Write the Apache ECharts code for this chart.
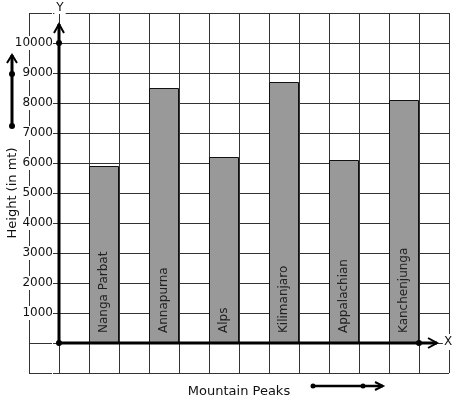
<!DOCTYPE html>
<html><head><meta charset="utf-8">
<script src="https://cdn.jsdelivr.net/npm/echarts@6.0.0/dist/echarts.min.js"></script>
<style>html,body{margin:0;padding:0;background:#fff}#c{width:457px;height:399px}</style>
</head><body><div id="c"></div>
<script>
const peaks = ['Nanga Parbat', 'Annapurna', 'Alps', 'Kilimanjaro', 'Appalachian', 'Kanchenjunga'];
const heights = [5900, 8500, 6200, 8700, 6100, 8100];
const yTickLabels = [1000, 2000, 3000, 4000, 5000, 6000, 7000, 8000, 9000, 10000];
const xAxisTitle = 'Mountain Peaks';
const yAxisTitle = 'Height (in mt)';
const xLetter = 'X';
const yLetter = 'Y';

const FONT = 'DejaVu Sans';
const chart = echarts.init(document.getElementById('c'), null, {renderer: 'canvas'});

const barData = peaks.map((n, i) => ({name: n, value: [1.5 + 2 * i, heights[i]]}));

chart.setOption({
  backgroundColor: '#fff',
  animation: false,
  grid: {left: 29, top: 13, width: 420, height: 360, containLabel: false, outerBoundsMode: 'none'},
  xAxis: {
    type: 'value', min: -1, max: 13, interval: 1,
    axisLine: {show: false, onZero: false},
    axisTick: {show: false},
    axisLabel: {show: false},
    splitLine: {show: true, lineStyle: {color: '#333', width: 1}},
    name: xAxisTitle, nameLocation: 'middle', nameGap: 12, nameMoveOverlap: false,
    nameTextStyle: {fontFamily: FONT, fontSize: 13, color: '#111'}
  },
  yAxis: {
    type: 'value', min: -1000, max: 11000, interval: 1000,
    axisLine: {show: false, onZero: false},
    axisTick: {show: false},
    axisLabel: {
      show: true, margin: -24, fontFamily: FONT, fontSize: 12, color: '#111',
      backgroundColor: '#fff', padding: [1, 0, 1, 1],
      formatter: v => (yTickLabels.indexOf(v) >= 0 ? String(v) : '')
    },
    splitLine: {show: true, lineStyle: {color: '#333', width: 1}},
    name: yAxisTitle, nameLocation: 'middle', nameRotate: 90, nameGap: 10, nameMoveOverlap: false,
    nameTextStyle: {fontFamily: FONT, fontSize: 13, color: '#111'}
  },
  series: [{
    type: 'bar',
    data: barData,
    barWidth: 30,
    itemStyle: {color: '#999', borderColor: '#111', borderWidth: 1},
    label: {
      show: true, position: 'insideBottom', rotate: 90, distance: 10,
      align: 'left', verticalAlign: 'middle',
      fontFamily: FONT, fontSize: 12, color: '#222',
      formatter: p => p.name
    }
  }]
});

function px(x, y) { return chart.convertToPixel({gridIndex: 0}, [x, y]); }
const o = px(0, 0);
const yTop = px(0, 10630);
const y10k = px(0, 10000);
const xEnd = px(12.6, 0);
const xDot = px(12, 0);
const ax = {stroke: '#000', lineWidth: 3};
const ah = {stroke: '#000', lineWidth: 2, fill: null};
const g = [];
// axes
g.push({type: 'line', shape: {x1: o[0], y1: o[1], x2: yTop[0], y2: yTop[1]}, style: ax, z: 50});
g.push({type: 'polyline', shape: {points: [[yTop[0] - 5, yTop[1] + 9], [yTop[0], yTop[1]], [yTop[0] + 5, yTop[1] + 9]]}, style: ah, z: 50});
g.push({type: 'line', shape: {x1: o[0], y1: o[1], x2: xEnd[0], y2: xEnd[1]}, style: ax, z: 50});
g.push({type: 'polyline', shape: {points: [[xEnd[0] - 9, xEnd[1] - 5], [xEnd[0], xEnd[1]], [xEnd[0] - 9, xEnd[1] + 5]]}, style: ah, z: 50});
[o, y10k, xDot].forEach(p => g.push({type: 'circle', shape: {cx: p[0], cy: p[1], r: 3}, style: {fill: '#000'}, z: 51}));
// axis letters
g.push({type: 'text', x: yTop[0] + 1, y: 8, style: {text: yLetter, fontFamily: FONT, fontSize: 12, fill: '#111', align: 'center', verticalAlign: 'middle', backgroundColor: '#fff', padding: [0, 2]}, z: 50});
g.push({type: 'text', x: xEnd[0] + 11, y: xEnd[1] - 1, style: {text: xLetter, fontFamily: FONT, fontSize: 12, fill: '#111', align: 'center', verticalAlign: 'middle', backgroundColor: '#fff', padding: [2, 1]}, z: 50});
// decorative arrows
const va = {x: 12, y0: 126, y1: 55, yd: 74};
g.push({type: 'line', shape: {x1: va.x, y1: va.y0, x2: va.x, y2: va.y1}, style: ax, z: 50});
g.push({type: 'polyline', shape: {points: [[va.x - 5, va.y1 + 8], [va.x, va.y1], [va.x + 5, va.y1 + 8]]}, style: ah, z: 50});
[va.y0, va.yd].forEach(y => g.push({type: 'circle', shape: {cx: va.x, cy: y, r: 3}, style: {fill: '#000'}, z: 51}));
const ha = {y: 386, x0: 313, x1: 383, xd: 363};
g.push({type: 'line', shape: {x1: ha.x0, y1: ha.y, x2: ha.x1, y2: ha.y}, style: {stroke: '#000', lineWidth: 2.5}, z: 50});
g.push({type: 'polyline', shape: {points: [[ha.x1 - 8, ha.y - 4], [ha.x1, ha.y], [ha.x1 - 8, ha.y + 4]]}, style: ah, z: 50});
[ha.x0, ha.xd].forEach(x => g.push({type: 'circle', shape: {cx: x, cy: ha.y, r: 2.5}, style: {fill: '#000'}, z: 51}));
chart.setOption({graphic: g});
</script></body></html>
